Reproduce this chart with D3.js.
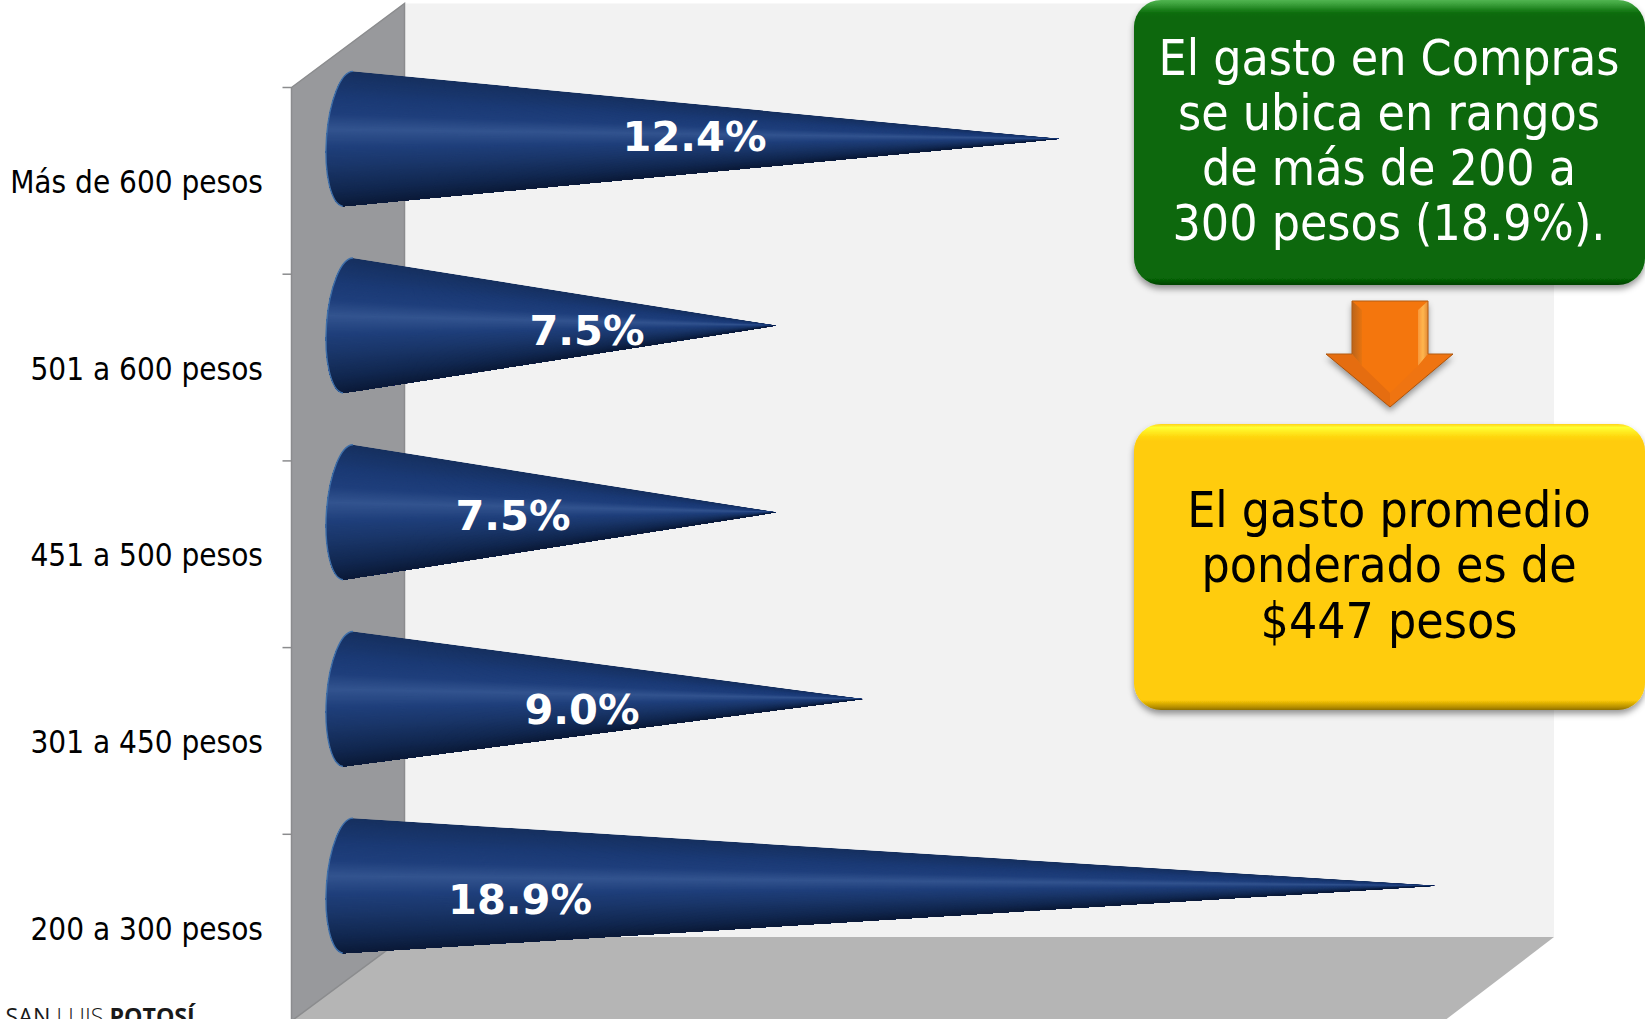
<!DOCTYPE html>
<html>
<head>
<meta charset="utf-8">
<script src="https://cdn.jsdelivr.net/npm/d3@7"></script>
<style>
    html, body { margin: 0; padding: 0; background: #fff; overflow: hidden; }
    text { font-family: "DejaVu Sans Condensed", "DejaVu Sans"; font-stretch: condensed; }
</style>
</head>
<body>
<div id="chart"></div>
<script>
const categories = ['Más de 600 pesos', '501 a 600 pesos', '451 a 500 pesos', '301 a 450 pesos', '200 a 300 pesos'];
const values = [12.4, 7.5, 7.5, 9.0, 18.9];
const valueLabels = ['12.4%', '7.5%', '7.5%', '9.0%', '18.9%'];
const greenLines = ['El gasto en Compras', 'se ubica en rangos', 'de más de 200 a', '300 pesos (18.9%).'];
const yellowLines = ['El gasto promedio', 'ponderado es de', '$447 pesos'];

const width = 1645;
const height = 1019;
const depthX = 113;
const depthY = 84;

const svg = d3.select('#chart')
    .append('svg')
    .attr('width', width)
    .attr('height', height)
    .style('display', 'block');

const defs = svg.append('defs');

const xScale = d3.scaleLinear().domain([0, 18.9]).range([342.5, 1435.5]);
const yScale = d3.scaleBand().domain(categories).range([87.5, 1021]);

// 3d walls
const left = 291.5, top0 = 87.5, bottom0 = 1021;
const backRight = 1554;
svg.append('path')
    .attr('d', `M${left + depthX},${top0 - depthY}H${backRight}V${bottom0 - depthY}H${left + depthX}Z`)
    .attr('fill', '#f2f2f2');
svg.append('path')
    .attr('d', `M${left + depthX},${bottom0 - depthY}H${backRight}L1444,${bottom0}H${left}Z`)
    .attr('fill', '#b5b5b5');
svg.append('path')
    .attr('d', `M${left},${top0}L${left + depthX},${top0 - depthY}V${bottom0 - depthY}L${left},${bottom0}Z`)
    .attr('fill', '#98999c')
    .attr('stroke', '#8b8c8e')
    .attr('stroke-width', 1.5);

// category axis, ticks sit on the band edges
const yAxis = d3.axisLeft(yScale).tickSize(0).tickPadding(28.5);
const axisG = svg.append('g')
    .attr('transform', `translate(${left}, 0)`)
    .call(yAxis);
axisG.select('.domain').remove();
axisG.selectAll('text')
    .attr('dy', '0.39em')
    .attr('fill', '#000')
    .style('font-size', '31.2px')
    .style('font-family', null);
svg.selectAll('.edge-tick')
    .data(categories)
    .enter()
    .append('line')
    .attr('class', 'edge-tick')
    .attr('x1', left - 9)
    .attr('x2', left)
    .attr('y1', d => yScale(d))
    .attr('y2', d => yScale(d))
    .attr('stroke', '#8b8c8e')
    .attr('stroke-width', 1.5);

// cones: a fan of wedges from the tip gives the converging shading.
// every wedge runs on to the last edge and the next one paints over it, so no seams show
const shade = d3.scaleLinear()
    .domain([0, 0.2, 0.32, 0.43, 0.56, 0.7, 0.88, 1])
    .range(['#16305f', '#1b3a75', '#1f3f7c', '#33548f', '#1f3f7b', '#1a3669', '#11274f', '#0b1a38'])
    .interpolate(d3.interpolateRgb);
const coneHalf = 67.5;
const baseLean = 5;
const baseBulge = 22;
const baseX = 348;
const coneY = d => yScale(d) + yScale.bandwidth() / 2 - depthY / 2;
const lean = Math.atan2(2 * baseLean, 2 * coneHalf) * 180 / Math.PI;

const cones = svg.selectAll('.cone')
    .data(categories)
    .enter()
    .append('g')
    .attr('class', 'cone');

cones.each(function(cat, i) {
    const g = d3.select(this);
    const cy = coneY(cat);
    const tip = [xScale(values[i]), cy];
    const topPt = [baseX + baseLean, cy - coneHalf];
    const botPt = [baseX - baseLean, cy + coneHalf];
    const arc = `A${baseBulge},${coneHalf + 0.2} ${lean} 0 1 ${topPt[0]},${topPt[1]}`;
    const outline = `M${topPt}L${tip}L${botPt}${arc}Z`;

    defs.append('clipPath').attr('id', 'cone-clip-' + i).append('path').attr('d', outline);

    const fan = g.append('g').attr('clip-path', `url(#cone-clip-${i})`);
    const steps = 120;
    const pointAt = t => {
        const px = topPt[0] + (botPt[0] - topPt[0]) * t;
        const py = topPt[1] + (botPt[1] - topPt[1]) * t;
        return [tip[0] + (px - tip[0]) * 1.12, tip[1] + (py - tip[1]) * 1.12];
    };
    fan.selectAll('path')
        .data(d3.range(steps))
        .enter()
        .append('path')
        .attr('d', k => `M${tip}L${pointAt(k / steps)}L${pointAt(1.05)}Z`)
        .attr('fill', k => shade((k + 0.5) / steps));

    g.append('path')
        .attr('d', `M${botPt}${arc}`)
        .attr('fill', 'none')
        .attr('stroke', '#3f6fa9')
        .attr('stroke-width', 1.4);
});

// value labels were hand placed in the original
const labelCenters = [694.5, 587, 513, 582, 520];
const labelBaselines = [151, 345, 529.5, 724, 913.5];
svg.selectAll('.value-label')
    .data(valueLabels)
    .enter()
    .append('text')
    .attr('class', 'value-label')
    .attr('x', (d, i) => labelCenters[i])
    .attr('y', (d, i) => labelBaselines[i])
    .attr('text-anchor', 'middle')
    .attr('fill', '#fff')
    .style('font-family', '"DejaVu Sans"')
    .style('font-stretch', 'normal')
    .style('font-weight', 'bold')
    .style('font-size', '41.5px')
    .text(d => d);

// shadow shared by the callouts
const shadow = defs.append('filter').attr('id', 'soft-shadow')
    .attr('x', '-10%').attr('y', '-10%').attr('width', '120%').attr('height', '125%');
shadow.append('feDropShadow')
    .attr('dx', 0).attr('dy', 4).attr('stdDeviation', 3)
    .attr('flood-color', '#000').attr('flood-opacity', 0.4);

function vGradient(id, stops) {
    const grad = defs.append('linearGradient').attr('id', id).attr('x1', 0).attr('y1', 0).attr('x2', 0).attr('y2', 1);
    stops.forEach(s => grad.append('stop').attr('offset', s[0]).attr('stop-color', s[1]));
}
function hGradient(id, stops) {
    const grad = defs.append('linearGradient').attr('id', id).attr('x1', 0).attr('y1', 0).attr('x2', 1).attr('y2', 0);
    stops.forEach(s => grad.append('stop').attr('offset', s[0]).attr('stop-color', s[1]));
}
vGradient('green-fill', [[0, '#52b552'], [0.012, '#3fa53f'], [0.045, '#0c6d0c'], [0.06, '#076807'], [0.975, '#076807'], [1, '#034103']]);
vGradient('yellow-fill', [[0, '#ffd21a'], [0.012, '#ffff33'], [0.045, '#ffd60c'], [0.06, '#ffcc07'], [0.965, '#ffcc07'], [0.99, '#b58e05'], [1, '#8f7004']]);
hGradient('bevel-left', [[0, '#b9641c'], [1, '#e8740f']]);
hGradient('bevel-right', [[0, '#f8973a'], [0.5, '#ffb64e'], [1, '#e38a34']]);

function callout(y0, h, fillId, textColor, lines, baselines) {
    svg.append('rect')
        .attr('x', 1134)
        .attr('y', y0)
        .attr('width', 511)
        .attr('height', h)
        .attr('rx', 27)
        .attr('fill', `url(#${fillId})`)
        .attr('filter', 'url(#soft-shadow)');
    svg.selectAll(null)
        .data(lines)
        .enter()
        .append('text')
        .attr('x', 1389)
        .attr('y', (d, i) => baselines[i])
        .attr('text-anchor', 'middle')
        .attr('fill', textColor)
        .style('font-size', '49.5px')
        .text(d => d);
}
callout(0, 285, 'green-fill', '#fff', greenLines, [75, 130, 185, 239.5]);
callout(424, 286, 'yellow-fill', '#000', yellowLines, [527, 582, 637.5]);

// arrow between the callouts
const arrow = svg.append('g');
arrow.append('path')
    .attr('d', 'M1352,301H1428V354H1453L1390,407L1326,354H1352Z')
    .attr('fill', '#f47611')
    .attr('filter', 'url(#soft-shadow)');
const bevels = [
    ['M1352,301L1362,310V366L1352,354Z', 'url(#bevel-left)'],
    ['M1428,301L1418,310V366L1428,354Z', 'url(#bevel-right)'],
    ['M1326,354H1352L1362,366L1390,393V407Z', '#e56d10'],
    ['M1453,354H1428L1418,366L1390,393V407Z', '#ef7411']
];
arrow.selectAll('.bevel')
    .data(bevels)
    .enter()
    .append('path')
    .attr('class', 'bevel')
    .attr('d', d => d[0])
    .attr('fill', d => d[1]);
arrow.append('path')
    .attr('d', 'M1326,354H1352V301H1428V354H1453')
    .attr('fill', 'none')
    .attr('stroke', '#b45c12')
    .attr('stroke-width', 1);
arrow.append('path')
    .attr('d', 'M1326,354L1390,407L1453,354')
    .attr('fill', 'none')
    .attr('stroke', '#a9540f')
    .attr('stroke-width', 1);

// logo text cut off by the bottom edge
const logo = svg.append('text')
    .attr('x', 5.5)
    .attr('y', 1024.6)
    .attr('fill', '#1a1a1a')
    .style('font-family', '"Open Sans"')
    .style('font-stretch', 'normal')
    .style('font-size', '23.2px');
logo.append('tspan').text('SAN ');
logo.append('tspan').style('font-weight', 300).text('LUIS ');
logo.append('tspan').style('font-weight', 'bold').text('POTOSÍ');
</script>
</body>
</html>
